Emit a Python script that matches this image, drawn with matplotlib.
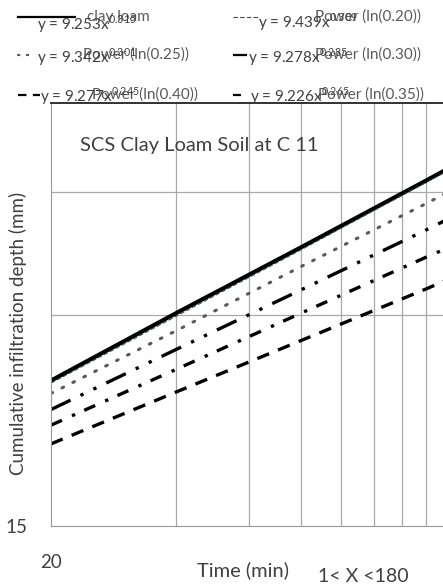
import matplotlib
matplotlib.use("Agg")
import matplotlib.pyplot as plt
from matplotlib.lines import Line2D

plt.rcParams["font.family"] = ["Lato", "DejaVu Sans"]
plt.rcParams["mathtext.fontset"] = "custom"
plt.rcParams["mathtext.rm"] = "Lato"

# values (log-log axes)
time_min = [20, 40, 80, 160, 180]
clay_loam = [24.2, 30.2, 37.5, 46.7, 48.5]
power_020 = [24.0, 29.9, 37.2, 46.4, 48.2]
power_025 = [23.2, 28.5, 35.2, 43.3, 44.9]
power_030 = [22.0, 26.8, 32.6, 39.7, 41.1]
power_035 = [20.9, 25.1, 30.2, 36.3, 37.4]
power_040 = [19.65, 23.3, 27.6, 32.7, 33.7]

legend_labels = ["clay loam", "Power (ln(0.20))", "Power (ln(0.25))",
                 "Power (ln(0.30))", "Power (ln(0.40))", "Power (ln(0.35))"]
equations = ["y = 9.253x$^{0.315}$", "y = 9.439x$^{0.309}$", "y = 9.342x$^{0.301}$",
             "y = 9.278x$^{0.285}$", "y = 9.277x$^{0.245}$", "y = 9.226x$^{0.265}$"]

W, H = 443, 585
fig = plt.figure(figsize=(W / 100, H / 100), dpi=100)
ax = fig.add_axes([51 / W, 1 - 526 / H, 392 / W, 423 / H])
ax.set_xscale("log")
ax.set_yscale("log")
ax.set_xlim(20, 176)
ax.set_ylim(15, 60.3)

GRID = "#a9a9a9"
for gx in [40, 60, 80, 100, 120, 140, 160]:
    ax.axvline(gx, color=GRID, lw=0.9, zorder=0)
for gy in [30, 45]:
    ax.axhline(gy, color=GRID, lw=0.9, zorder=0)

styles = {
    "clay": dict(color="black", lw=3.0, ls="-"),
    "p20": dict(color="#2f4f4f", lw=0.8, ls=(0, (4, 2))),
    "p25": dict(color="#5a5a5a", lw=2.2, ls=(0, (0.6, 3.4)), dash_capstyle="round"),
    "p30": dict(color="black", lw=2.4, ls=(0, (6.5, 3.3, 1.0, 3.3, 1.0, 3.3))),
    "p35": dict(color="black", lw=2.4, ls=(0, (3.6, 3.3, 1.0, 3.0))),
    "p40": dict(color="black", lw=2.4, ls=(0, (3.8, 2.9))),
}
ax.plot(time_min, clay_loam, **styles["clay"])
ax.plot(time_min, power_020, **styles["p20"])
ax.plot(time_min, power_025, **styles["p25"])
ax.plot(time_min, power_030, **styles["p30"])
ax.plot(time_min, power_035, **styles["p35"])
ax.plot(time_min, power_040, **styles["p40"])

ax.minorticks_off()
ax.set_xticks([20])
ax.set_xticklabels(["20"], fontsize=13.5, color="#404040")
ax.set_yticks([15])
ax.set_yticklabels(["15"], fontsize=13.5, color="#404040")
ax.tick_params(axis="x", length=0, pad=20)
ax.tick_params(axis="y", length=0, pad=17)
ax.spines["right"].set_visible(False)
ax.spines["left"].set_color("#999999")
ax.spines["bottom"].set_color("#999999")
ax.spines["top"].set_color("#222222")
ax.spines["top"].set_linewidth(1.3)

fig.text(80 / W, 1 - 145 / H, "SCS Clay Loam Soil at C 11",
         fontsize=14.5, color="#404040", va="center", ha="left")
fig.text(18 / W, 1 - 333 / H, "Cumulative infiltration depth (mm)", rotation=90,
         fontsize=13.5, color="#404040", ha="center", va="center")
fig.text(243 / W, 1 - 570 / H, "Time (min)", fontsize=14.5, color="#404040",
         ha="center", va="center")
fig.text(318 / W, 1 - 577 / H, "1< X <180", fontsize=14, color="#404040",
         ha="left", va="center")


# legend drawn by hand: handle line, entry label, trendline equation on top
def legend_entry(x0, x1, y, style, label, lx, eq, ex, ey):
    fy = 1 - y / H
    st = dict(style)
    st["lw"] = min(st["lw"], 1.6)
    fig.add_artist(Line2D([x0 / W, x1 / W], [fy, fy], transform=fig.transFigure, **st))
    fig.text(lx / W, fy, label, fontsize=11, color="#595959", ha="left", va="center")
    fig.text(ex / W, 1 - ey / H, eq, fontsize=11, color="#404040", ha="left", va="center")


legend_entry(18, 75, 17, styles["clay"], legend_labels[0], 87, equations[0], 37, 24)
legend_entry(233, 258, 17, styles["p20"], legend_labels[1], 315, equations[1], 258, 22)
legend_entry(18, 32, 55, styles["p25"], legend_labels[2], 83, equations[2], 37, 57)
legend_entry(233, 247, 55, styles["p30"], legend_labels[3], 315, equations[3], 248, 57)
legend_entry(18, 40, 95, styles["p40"], legend_labels[4], 92, equations[4], 40, 96)
legend_entry(233, 248, 95, styles["p35"], legend_labels[5], 318, equations[5], 250, 96)

fig.savefig("out.png", dpi=100)
